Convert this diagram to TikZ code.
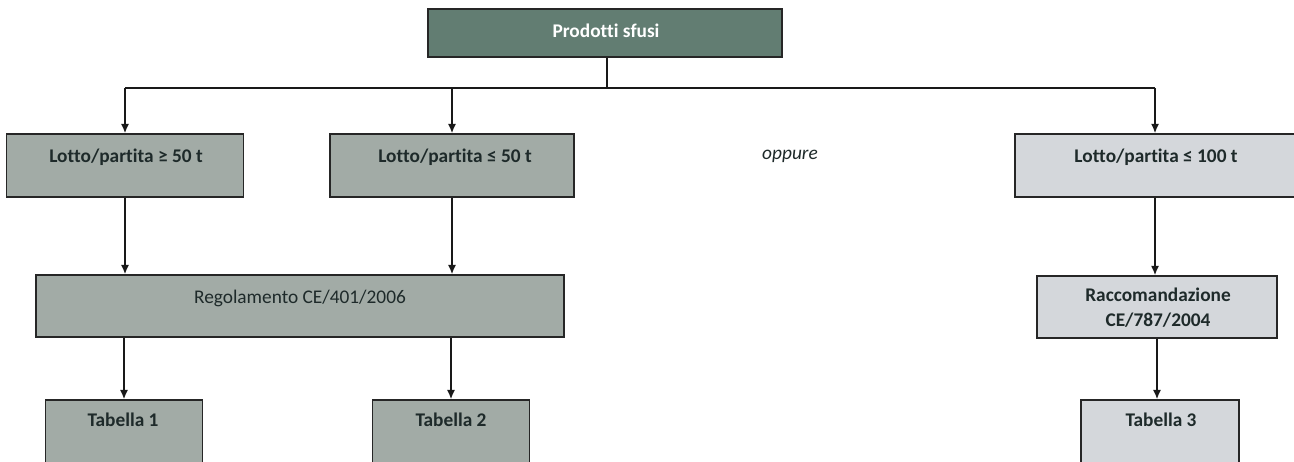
\documentclass[tikz,border=0pt]{standalone}
\usepackage{fontspec}
\setmainfont[Ligatures=CommonOff]{Carlito}
\usetikzlibrary{arrows.meta}
\definecolor{topfill}{HTML}{627D72}
\definecolor{midfill}{HTML}{A2ABA6}
\definecolor{lightfill}{HTML}{D4D7DB}
\definecolor{txt}{HTML}{1E2A2A}
\tikzset{
  box/.style={draw=black!85, line width=1.1pt, rectangle, inner sep=0pt},
  midbox/.style={box, fill=midfill},
  lightbox/.style={box, fill=lightfill},
  topbox/.style={box, fill=topfill},
  lbl/.style={text=txt, font=\fontsize{14.5}{20}\selectfont\bfseries, inner sep=0pt, align=center},
  lblr/.style={text=txt, font=\fontsize{14.5}{20}\selectfont, inner sep=0pt},
  conn/.style={draw=black!90, line width=1.2pt},
  arr/.style={conn, -{Latex[length=7pt,width=6pt]}},
}
\begin{document}
\begin{tikzpicture}[x=0.75pt,y=-0.75pt]
\useasboundingbox (0,0) rectangle (1294,461);
\clip (0,0) rectangle (1294,461);
\fill[white] (0,0) rectangle (1294,461);
% boxes
\node[topbox, minimum width=354*0.75pt, minimum height=48*0.75pt] (top) at (605,33) {};
\node[midbox, minimum width=237*0.75pt, minimum height=63*0.75pt] (b1) at (125,165.5) {};
\node[midbox, minimum width=244*0.75pt, minimum height=63*0.75pt] (b2) at (452,165.5) {};
\node[lightbox, minimum width=280*0.75pt, minimum height=63*0.75pt] (b3) at (1155,165.5) {};
\node[midbox, minimum width=528*0.75pt, minimum height=62*0.75pt] (reg) at (300,306) {};
\node[lightbox, minimum width=240*0.75pt, minimum height=62*0.75pt] (racc) at (1157,307) {};
\node[midbox, minimum width=157*0.75pt, minimum height=80*0.75pt] (t1) at (124,440) {};
\node[midbox, minimum width=157*0.75pt, minimum height=80*0.75pt] (t2) at (451,440) {};
\node[lightbox, minimum width=158*0.75pt, minimum height=80*0.75pt] (t3) at (1160,440) {};
% labels
\node[lbl, text=white] (ltop) at (606,31) {Prodotti sfusi};
\node[lbl] (lb1) at (126,157) {Lotto/partita ≥ 50 t};
\node[lbl] (lb2) at (455,157) {Lotto/partita ≤ 50 t};
\node[lbl] (lb3) at (1156,157) {Lotto/partita ≤ 100 t};
\node[text=txt, font=\fontsize{14.5}{20}\selectfont\itshape, inner sep=0pt] (opp) at (790,156) {oppure};
\node[lblr] (lreg) at (300,298) {Regolamento CE/401/2006};
\node[lbl, font=\fontsize{14.5}{18.75}\selectfont\bfseries] (lracc) at (1158,308) {Raccomandazione\\CE/787/2004};
\node[lbl] (lt1) at (123,420) {Tabella 1};
\node[lbl] (lt2) at (451,420) {Tabella 2};
\node[lbl] (lt3) at (1161,420) {Tabella 3};
% connectors
\coordinate (j) at (607,88);
\draw[conn] (top.south -| j) -- (j);
\draw[conn] (j -| b1.north) -- (j -| b3.north);
\draw[arr] (j -| b1.north) -- (b1.north);
\draw[arr] (j -| b2.north) -- (b2.north);
\draw[arr] (j -| b3.north) -- (b3.north);
\draw[arr] (b1.south) -- (b1.south |- reg.north);
\draw[arr] (b2.south) -- (b2.south |- reg.north);
\draw[arr] (reg.south -| t1.north) -- (t1.north);
\draw[arr] (reg.south -| t2.north) -- (t2.north);
\draw[arr] (b3.south) -- (b3.south |- racc.north);
\draw[arr] (racc.south) -- (racc.south |- t3.north);
\end{tikzpicture}
\end{document}
